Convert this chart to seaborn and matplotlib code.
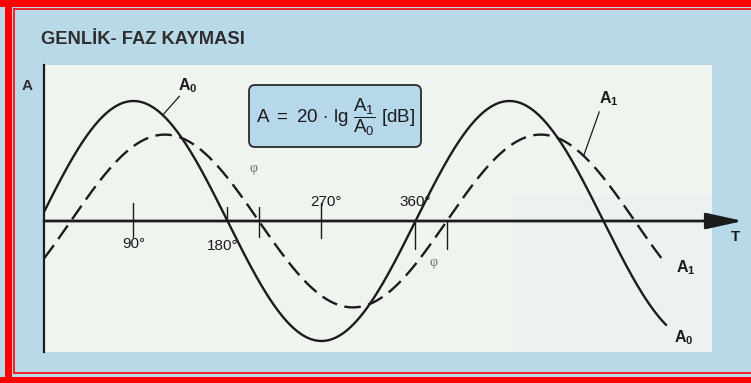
import numpy as np
import pandas as pd
import matplotlib
matplotlib.use("Agg")
import matplotlib.pyplot as plt
from matplotlib.patches import Rectangle, FancyBboxPatch
import seaborn as sns

# ---- data -------------------------------------------------------------
# Two sine waves: the input amplitude A0 and the attenuated, phase-shifted A1
wave_names = ["A0", "A1"]
wave_amplitude = [1.0, 0.72]          # relative amplitude
wave_phase_deg = [0.0, 30.0]          # phase shift phi
wave_start_deg = [4.3, 4.3]
wave_end_deg = [600.0, 597.0]

tick_angles = [90, 180, 270, 360]
tick_labels = ["90°", "180°", "270°", "360°"]

title_text = "GENLİK- FAZ KAYMASI"
formula_text = r"$A\ =\ 20\,\cdot\,lg\ \dfrac{A_1}{A_0}\ [dB]$"

# ---- build the curves ---------------------------------------------------
frames = []
for name, amp, phase, a0, a1 in zip(wave_names, wave_amplitude, wave_phase_deg,
                                    wave_start_deg, wave_end_deg):
    theta = np.linspace(a0, a1, 600)
    frames.append(pd.DataFrame({
        "angle": theta,
        "amplitude": amp * np.sin(np.radians(theta - phase)),
        "wave": name,
    }))
df = pd.concat(frames, ignore_index=True)


def wave_value(name, angle):
    i = wave_names.index(name)
    return wave_amplitude[i] * np.sin(np.radians(angle - wave_phase_deg[i]))


# ---- style ---------------------------------------------------------------
sns.set_theme(style="white")
plt.rcParams["font.family"] = ["Liberation Sans", "DejaVu Sans"]
plt.rcParams["mathtext.fontset"] = "custom"
plt.rcParams["mathtext.rm"] = "Liberation Sans"
plt.rcParams["mathtext.it"] = "Liberation Sans"
plt.rcParams["mathtext.bf"] = "Liberation Sans:bold"

INK = "#1c1c1c"
BLUE_BG = "#b9d9e9"
PANEL = "#eff4ef"
PANEL_RIGHT = "#ecf2f1"
RED = "#ff0000"

W, H = 751, 383
fig = plt.figure(figsize=(W / 100, H / 100), dpi=100)
fig.patch.set_facecolor(BLUE_BG)

# background layer in pixel units (frame, panel, formula box)
bg = fig.add_axes([0, 0, 1, 1], zorder=0)
bg.set_xlim(0, W)
bg.set_ylim(H, 0)
bg.axis("off")
bg.add_patch(Rectangle((44, 65), 668, 287, facecolor=PANEL, edgecolor="none"))
bg.add_patch(Rectangle((512, 195), 200, 157, facecolor=PANEL_RIGHT, edgecolor="none"))
# double red frame
bg.add_patch(Rectangle((5, 0), 7, H, facecolor=RED, edgecolor="none"))
bg.add_patch(Rectangle((0, 0), W, 7, facecolor=RED, edgecolor="none"))
bg.add_patch(Rectangle((0, 377), W, 6, facecolor=RED, edgecolor="none"))
bg.plot([14, 14], [9, 373], color=RED, lw=1.2)
bg.plot([14, W], [9, 9], color=RED, lw=1.2)
bg.plot([14, W], [373, 373], color=RED, lw=1.2)
# formula box
bg.add_patch(FancyBboxPatch((249, 85), 172, 62,
                            boxstyle="round,pad=0,rounding_size=6",
                            facecolor="#b6d8ea", edgecolor="#2a2a2a", lw=1.3))
bg.text(336, 117, formula_text, ha="center", va="center", fontsize=13.5,
        color=INK)

fig.text(41 / W, 1 - 40 / H, title_text, ha="left", va="center",
         fontsize=13.2, fontweight="bold", color="#2e2e2e")
fig.text(27 / W, 1 - 86 / H, "A", ha="center", va="center",
         fontsize=11, fontweight="bold", color="#2e2e2e")

# ---- main plot -------------------------------------------------------------
ax = fig.add_axes([44 / W, 1 - 352 / H, 699 / W, 287 / H], zorder=2)
ax.set_facecolor("none")
sns.lineplot(data=df, x="angle", y="amplitude", style="wave",
             dashes={"A0": "", "A1": (7.0, 3.2)}, color=INK, lw=1.7,
             legend=False, sort=False, ax=ax)
ax.set_xlim(4.31, 673.6)
ax.set_ylim(-1.0917, 1.3)
ax.set_xlabel("")
ax.set_ylabel("")
ax.set_xticks([])
ax.set_yticks([])
for side in ["top", "right", "bottom"]:
    ax.spines[side].set_visible(False)
ax.spines["left"].set_color(INK)
ax.spines["left"].set_linewidth(1.6)

# time axis with arrow head
ax.annotate("", xy=(673.6, 0), xytext=(4.31, 0),
            arrowprops=dict(arrowstyle="-|>,head_length=1.5,head_width=0.33",
                            mutation_scale=15, lw=2.0, color=INK,
                            shrinkA=0, shrinkB=0),
            annotation_clip=False)
ax.text(666, -0.13, "T", ha="center", va="center", fontsize=11,
        fontweight="bold", color=INK)

# angle ticks
tick_reach = [(0.15, -0.13), (0.12, 0.0), (0.15, -0.14), (0.0, -0.23)]
label_y = [-0.19, -0.21, 0.16, 0.16]
label_dx = [0, -5, 4, 0]
for ang, lab, (top, bot), ly, dx in zip(tick_angles, tick_labels, tick_reach,
                                        label_y, label_dx):
    ax.plot([ang, ang], [bot, top], color=INK, lw=1.0)
    ax.text(ang + dx, ly, lab, ha="center", va="center", fontsize=11,
            color=INK)

# phase-shift markers at the A1 zero crossings
phi = wave_phase_deg[1]
for cross, (top, bot), (tx, ty) in zip([180 + phi, 360 + phi],
                                       [(0.12, -0.13), (0.0, -0.23)],
                                       [(-5, 0.44), (-13, -0.35)]):
    ax.plot([cross, cross], [bot, top], color=INK, lw=1.0)
    ax.text(cross + tx, ty, "φ", ha="center", va="center", fontsize=10,
            family="Liberation Serif", color="#6a6a6a")

# curve labels with leader lines
lbl = dict(ha="center", va="center", fontsize=11.5, color=INK)
ax.plot([118, 134], [wave_value("A0", 118), 1.04], color=INK, lw=0.9)
ax.text(142, 1.13, r"$\mathbf{A_0}$", **lbl)
ax.plot([521, 536], [wave_value("A1", 521), 0.91], color=INK, lw=0.9)
ax.text(545, 1.02, r"$\mathbf{A_1}$", **lbl)
ax.text(619, -0.39, r"$\mathbf{A_1}$", **lbl)
ax.text(617, -0.97, r"$\mathbf{A_0}$", **lbl)

fig.savefig("out.png", dpi=100, facecolor=fig.get_facecolor())
